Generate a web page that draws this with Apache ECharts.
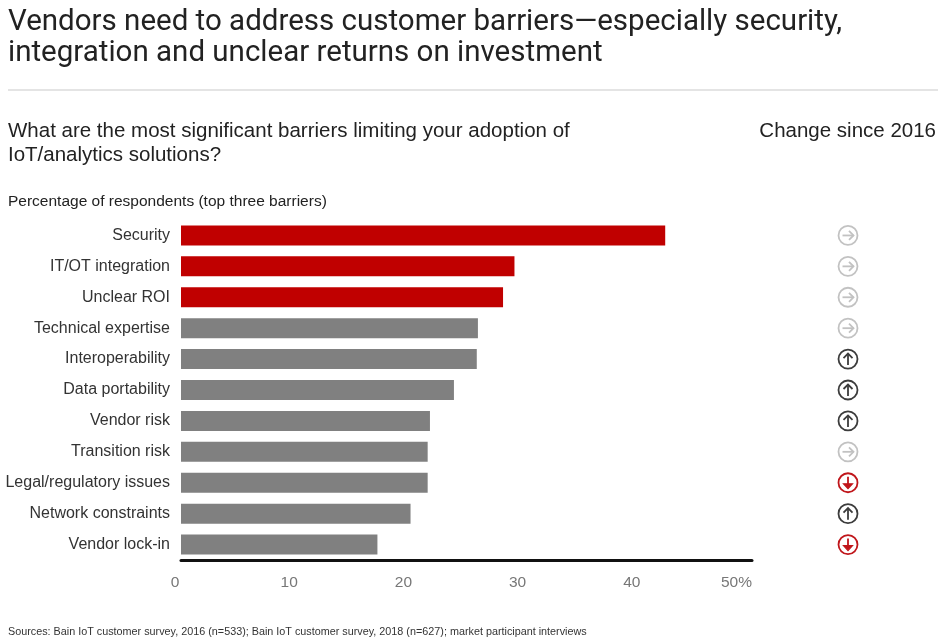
<!DOCTYPE html>
<html>
<head>
<meta charset="utf-8">
<script src="https://cdn.jsdelivr.net/npm/echarts@6/dist/echarts.min.js"></script>
<style>
html,body{margin:0;padding:0;background:#fff;}
#chart{width:938px;height:641px;}
</style>
</head>
<body>
<div id="chart"></div>
<script>
// ---- data ----
var categories = ['Security','IT/OT integration','Unclear ROI','Technical expertise','Interoperability','Data portability','Vendor risk','Transition risk','Legal/regulatory issues','Network constraints','Vendor lock-in'];
var values = [42.4, 29.2, 28.2, 26.0, 25.9, 23.9, 21.8, 21.6, 21.6, 20.1, 17.2];
var highlighted = [true, true, true, false, false, false, false, false, false, false, false];
// change since 2016: 'flat', 'up', 'down'
var changes = ['flat','flat','flat','flat','up','up','up','flat','down','up','down'];
var xTicks = [0, 10, 20, 30, 40, 50];

var chart = echarts.init(document.getElementById('chart'), null, {renderer:'canvas'});

var RED = '#c00000', GRAY = '#808080';
var changeColors = {flat:'#c2c2c2', up:'#3c3c3c', down:'#c0161b'};

var barData = values.map(function(v,i){
  return {value:v, itemStyle:{color: highlighted[i] ? RED : GRAY}};
});
var iconData = changes.map(function(c,i){ return [i, c]; });

var option = {
  animation:false,
  backgroundColor:'#fff',
  title:[
    {text:'Vendors need to address customer barriers\u2014especially security,\nintegration and unclear returns on investment',
     left:8, top:7, padding:0, textStyle:{fontFamily:'Roboto', fontWeight:'normal', fontSize:29.5, color:'#222', lineHeight:31}},
    {text:'What are the most significant barriers limiting your adoption of\nIoT/analytics solutions?',
     left:8, top:119, padding:0, textStyle:{fontFamily:'Liberation Sans', fontWeight:'normal', fontSize:20.5, color:'#222', lineHeight:24}},
    {text:'Change since 2016', right:2, top:119, padding:0, textStyle:{fontFamily:'Liberation Sans', fontWeight:'normal', fontSize:20.5, color:'#222', lineHeight:24}},
    {text:'Percentage of respondents (top three barriers)', left:8, top:193, padding:0, textStyle:{fontFamily:'Liberation Sans', fontWeight:'normal', fontSize:15.5, color:'#222', lineHeight:18}},
    {text:'Sources: Bain IoT customer survey, 2016 (n=533); Bain IoT customer survey, 2018 (n=627); market participant interviews',
     left:8, top:626, padding:0, textStyle:{fontFamily:'Liberation Sans', fontWeight:'normal', fontSize:10.8, color:'#333', lineHeight:12}}
  ],
  graphic:[
    {type:'line', shape:{x1:8, y1:90, x2:938, y2:90}, style:{stroke:'#e4e4e4', lineWidth:2}}
  ],
  grid:{left:181, right:186, top:220, bottom:81, containLabel:false},
  xAxis:{
    type:'value', min:0, max:50, interval:10,
    axisLine:{show:true, onZero:false, lineStyle:{color:'#111', width:3}},
    axisTick:{show:false},
    splitLine:{show:false},
    axisLabel:{color:'#777', fontFamily:'Liberation Sans', fontSize:15.5, margin:15,
      alignMaxLabel:'right',
      formatter:function(v){
        return v === xTicks[xTicks.length-1] ? '{m|' + v + '%}' : '{t|' + v + '}';
      },
      rich:{
        t:{color:'#777', fontFamily:'Liberation Sans', fontSize:15.5, padding:[0,12,0,0]},
        m:{color:'#777', fontFamily:'Liberation Sans', fontSize:15.5}
      }}
  },
  yAxis:{
    type:'category', data:categories, inverse:true,
    axisLine:{show:false}, axisTick:{show:false},
    axisLabel:{color:'#333', fontFamily:'Liberation Sans', fontSize:16, margin:11}
  },
  series:[
    {type:'bar', data:barData, barWidth:20},
    {type:'custom', data:iconData, encode:{y:0},
     renderItem:function(params, api){
       var idx = api.value(0);
       var y = api.coord([0, idx])[1];
       var x = 848;
       var c = changes[idx];
       var col = changeColors[c];
       var r = 9.5;
       var children = [{type:'circle', shape:{cx:x, cy:y, r:r}, style:{fill:'#fff', stroke:col, lineWidth:1.8}}];
       var ls = {stroke:col, lineWidth:1.8, fill:null};
       if (c === 'flat') {
         children.push({type:'line', shape:{x1:x-5.5, y1:y, x2:x+5.5, y2:y}, style:ls});
         children.push({type:'polyline', shape:{points:[[x+1,y-4.5],[x+5.5,y],[x+1,y+4.5]]}, style:ls});
       } else if (c === 'up') {
         children.push({type:'line', shape:{x1:x, y1:y+6, x2:x, y2:y-5.5}, style:ls});
         children.push({type:'polyline', shape:{points:[[x-4.5,y-1],[x,y-5.5],[x+4.5,y-1]]}, style:ls});
       } else {
         children.push({type:'line', shape:{x1:x, y1:y-6, x2:x, y2:y+4}, style:ls});
         children.push({type:'polygon', shape:{points:[[x-4.5,y+1],[x,y+6],[x+4.5,y+1]]}, style:{fill:col, stroke:col, lineWidth:1.2}});
       }
       return {type:'group', children:children};
     }
    }
  ]
};
chart.setOption(option);
</script>
</body>
</html>
